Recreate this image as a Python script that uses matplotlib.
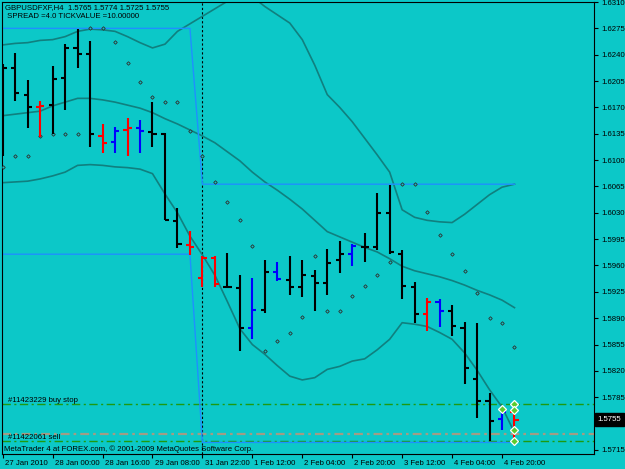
import matplotlib
matplotlib.use("Agg")
import matplotlib.pyplot as plt
import matplotlib.transforms as mtransforms
import numpy as np

plt.rcParams['font.family'] = ['Liberation Sans', 'DejaVu Sans']

# GBPUSD H4 bars, 27 Jan 2010 08:00 .. 5 Feb 2010 00:00
opens = [1.6222, 1.6222, 1.6186, 1.6171, 1.6173, 1.6209, 1.6249, 1.6241, 1.6132, 1.6124,
         1.6140, 1.6143, 1.6137, 1.6135, 1.6019, 1.5987, 1.5943, 1.5970, 1.5932, 1.5930,
         1.5877, 1.5901, 1.5952, 1.5941, 1.5931, 1.5946, 1.5937, 1.5967, 1.5975, 1.5985,
         1.5984, 1.6030, 1.5975, 1.5932, 1.5895, 1.5911, 1.5899, 1.5877, 1.5809, 1.5780,
         1.5756, 1.5765]
highs = [1.6228, 1.6242, 1.6206, 1.6179, 1.6225, 1.6254, 1.6274, 1.6258, 1.6148, 1.6144,
         1.6156, 1.6153, 1.6177, 1.6136, 1.6036, 1.6006, 1.5972, 1.5973, 1.5976, 1.5948,
         1.5943, 1.5967, 1.5965, 1.5972, 1.5967, 1.5954, 1.5982, 1.5993, 1.5989, 1.6003,
         1.6056, 1.6067, 1.5981, 1.5938, 1.5917, 1.5916, 1.5908, 1.5885, 1.5883, 1.5790,
         1.5766, 1.5774]
lows = [1.6105, 1.6178, 1.6143, 1.6131, 1.6135, 1.6167, 1.6222, 1.6118, 1.6110, 1.6110,
        1.6105, 1.6109, 1.6118, 1.6020, 1.5983, 1.5974, 1.5932, 1.5932, 1.5930, 1.5847,
        1.5863, 1.5897, 1.5939, 1.5921, 1.5918, 1.5899, 1.5921, 1.5950, 1.5959, 1.5965,
        1.5981, 1.5975, 1.5915, 1.5884, 1.5873, 1.5878, 1.5867, 1.5802, 1.5758, 1.5727,
        1.5741, 1.5725]
closes = [1.6222, 1.6189, 1.6170, 1.6172, 1.6208, 1.6249, 1.6241, 1.6135, 1.6123, 1.6139,
          1.6142, 1.6138, 1.6135, 1.6021, 1.5989, 1.5985, 1.5970, 1.5935, 1.5931, 1.5877,
          1.5901, 1.5952, 1.5942, 1.5931, 1.5947, 1.5937, 1.5963, 1.5975, 1.5986, 1.5984,
          1.6030, 1.5978, 1.5933, 1.5895, 1.5911, 1.5900, 1.5879, 1.5824, 1.5780, 1.5753,
          1.5765, 1.5755]
red_bars = [3, 8, 10, 15, 16, 17, 34, 41]
blue_bars = [9, 11, 20, 22, 28, 35, 40]

# bollinger bands
bb_upper = [1.6253, 1.6255, 1.6256, 1.6259, 1.6260, 1.6264, 1.6271, 1.6274, 1.6273, 1.6271,
            1.6264, 1.6256, 1.6249, 1.6254, 1.6271, 1.6281, 1.6291, 1.6301, 1.6311, 1.6323,
            1.6317, 1.6304, 1.6293, 1.6282, 1.6260, 1.6226, 1.6187, 1.6170, 1.6151, 1.6129,
            1.6107, 1.6084, 1.6034, 1.6024, 1.6020, 1.6018, 1.6017, 1.6028, 1.6041, 1.6054,
            1.6064, 1.6068]
bb_mid = [1.6159, 1.6161, 1.6163, 1.6165, 1.6172, 1.6177, 1.6182, 1.6182, 1.6180, 1.6177,
          1.6173, 1.6169, 1.6163, 1.6155, 1.6148, 1.6140, 1.6132, 1.6123, 1.6111, 1.6099,
          1.6084, 1.6071, 1.6060, 1.6048, 1.6035, 1.6020, 1.6005, 1.5998, 1.5991, 1.5984,
          1.5978, 1.5969, 1.5959, 1.5953, 1.5949, 1.5945, 1.5940, 1.5934, 1.5927, 1.5921,
          1.5914, 1.5904]
bb_lower = [1.6070, 1.6071, 1.6072, 1.6075, 1.6079, 1.6084, 1.6093, 1.6094, 1.6093, 1.6091,
            1.6090, 1.6088, 1.6082, 1.6055, 1.6030, 1.5999, 1.5974, 1.5947, 1.5912, 1.5876,
            1.5855, 1.5842, 1.5827, 1.5813, 1.5808, 1.5811, 1.5822, 1.5826, 1.5833, 1.5836,
            1.5848, 1.5862, 1.5884, 1.5882, 1.5879, 1.5871, 1.5862, 1.5844, 1.5821, 1.5795,
            1.5772, 1.5738]

# parabolic SAR
sar = [1.6091, 1.6105, 1.6105, 1.6132, 1.6134, 1.6134, 1.6134, 1.6276, 1.6276, 1.6257,
       1.6229, 1.6204, 1.6184, 1.6177, 1.6177, 1.6138, 1.6105, 1.6071, 1.6044, 1.6020,
       1.5986, 1.5847, 1.5860, 1.5870, 1.5891, 1.5972, 1.5899, 1.5899, 1.5919, 1.5933,
       1.5947, 1.5964, 1.6068, 1.6068, 1.6031, 1.6000, 1.5975, 1.5953, 1.5923, 1.5890,
       1.5883, 1.5852]

# previous-day high / low levels
day_high = [1.6275] * 16 + [1.6068] * 26
day_low = [1.5975] * 16 + [1.5725] * 26

# orders
buy_stop = 1.5776
sell_price = 1.5736
sell_stop = 1.5727
arrow_x = [40, 41, 41, 41, 41]
arrow_y = [1.5769, 1.5776, 1.5768, 1.5741, 1.5727]

date_idx = [0, 4, 8, 12, 16, 20, 24, 28, 32, 36, 40]
date_labels = ["27 Jan 2010", "28 Jan 00:00", "28 Jan 16:00", "29 Jan 08:00", "31 Jan 22:00",
               "1 Feb 12:00", "2 Feb 04:00", "2 Feb 20:00", "3 Feb 12:00", "4 Feb 04:00",
               "4 Feb 20:00"]
price_ticks = [1.5715 + 0.0035 * j for j in range(18)]
last_price = 1.5755

BG = '#0CC8C8'
TEAL = '#10807F'
FS = 5.6

fig = plt.figure(figsize=(6.25, 4.69), dpi=100, facecolor=BG)
ax = fig.add_axes([2 / 625, 15 / 469, 592 / 625, 452 / 469], facecolor=BG)

x = np.arange(len(opens))
cols = ['black'] * len(opens)
for i in red_bars:
    cols[i] = '#FF0000'
for i in blue_bars:
    cols[i] = '#0000FF'

ax.plot(x, bb_upper, color=TEAL, lw=1.2, zorder=2)
ax.plot(x, bb_mid, color=TEAL, lw=1.2, zorder=2)
ax.plot(x, bb_lower, color=TEAL, lw=1.2, zorder=2)
ax.plot(x, day_high, color='#1E90FF', lw=1.0, zorder=2)
ax.plot(x, day_low, color='#1E90FF', lw=1.0, zorder=2)

ax.axhline(buy_stop, color='#1E9A10', lw=1.0, ls=(0, (6, 2.5, 1.5, 2.5)), zorder=1)
ax.axhline(sell_stop, color='#1E9A10', lw=1.0, ls=(0, (6, 2.5, 1.5, 2.5)), zorder=1)
ax.axhline(sell_price, color='#A39C84', lw=1.6, ls=(0, (4, 1.8, 1.2, 1.8)), zorder=1)
ax.axvline(16, color='black', lw=0.8, ls=(0, (2, 2)), zorder=1)

ax.vlines(x, lows, highs, colors=cols, lw=1.5, zorder=4, capstyle='butt')
ax.hlines(opens, x - 0.33, x, colors=cols, lw=1.5, zorder=4)
ax.hlines(closes, x, x + 0.33, colors=cols, lw=1.5, zorder=4)

ax.plot(x, sar, ls='none', marker='D', ms=1.8, mfc=BG, mec='#303030', mew=0.6, zorder=3)
ax.plot(arrow_x, arrow_y, ls='none', marker='D', ms=4.2, mfc='#5CCB2C', mec='white', mew=0.9, zorder=5)

ax.set_xlim(-0.056, 47.37)
ax.set_ylim(1.57096, 1.63100)

for s in ax.spines.values():
    s.set_color('black')
    s.set_linewidth(0.8)

ax.yaxis.tick_right()
ax.set_yticks(price_ticks)
ax.set_yticklabels(['%.4f' % p for p in price_ticks])
ax.tick_params(axis='y', direction='out', length=3, width=0.8, pad=2, labelsize=FS, colors='black')

ax.set_xticks(date_idx)
ax.set_xticklabels(date_labels, ha='left')
ax.tick_params(axis='x', direction='out', length=3, width=0.8, pad=1.5, labelsize=FS, colors='black')
shift = mtransforms.ScaledTranslation(1.5 / 72, 0, fig.dpi_scale_trans)
for lab in ax.get_xticklabels():
    lab.set_transform(lab.get_transform() + shift)

ax.annotate('%.4f' % last_price, xy=(1, last_price), xycoords=('axes fraction', 'data'),
            xytext=(2.6, 0), textcoords='offset points', ha='left', va='center',
            color='white', fontsize=FS, annotation_clip=False, zorder=6,
            bbox=dict(boxstyle='square,pad=0.4', fc='black', ec='black'))

ax.text(0.4, buy_stop, '#11423229 buy stop', fontsize=FS, va='bottom', ha='left', zorder=6)
ax.text(0.4, 1.5732, '#11422061 sell', fontsize=FS, va='center', ha='left', zorder=6)

fig.text(5 / 625, 1 - 7.3 / 469, 'GBPUSDFXF,H4  1.5765 1.5774 1.5725 1.5755', fontsize=FS, va='center')
fig.text(5 / 625, 1 - 16 / 469, ' SPREAD =4.0 TICKVALUE =10.00000', fontsize=FS, va='center')
fig.text(4 / 625, 1 - 449 / 469, 'MetaTrader 4 at FOREX.com, \u00a9 2001-2009 MetaQuotes Software Corp.',
         fontsize=FS, va='center')

fig.savefig('out.png', dpi=100, facecolor=BG)
